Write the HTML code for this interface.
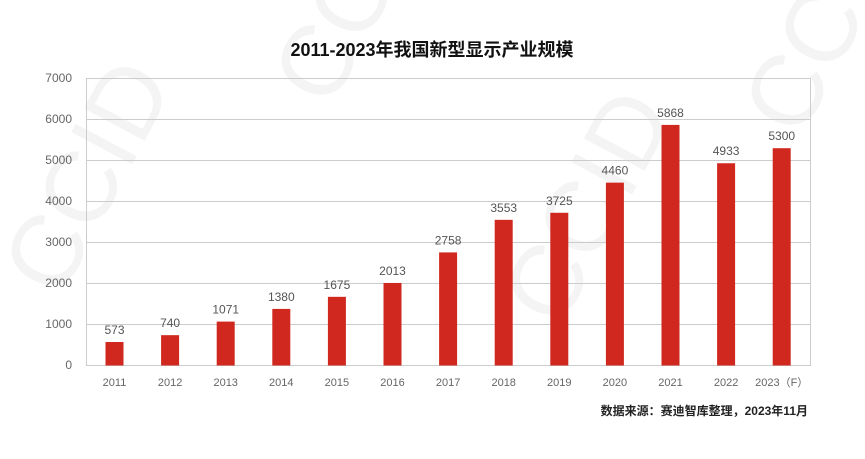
<!DOCTYPE html>
<html><head><meta charset="utf-8"><style>
body{margin:0;background:#fff;}
svg{display:block;font-family:"Liberation Sans","Noto Sans CJK SC",sans-serif;}
</style></head><body>
<svg width="865" height="459" viewBox="0 0 865 459" xmlns="http://www.w3.org/2000/svg">
<rect width="865" height="459" fill="#fff"/>
<g fill="#f4f4f4" font-size="100" font-family="Liberation Sans, sans-serif">
<text x="0" y="0" transform="translate(60,300) rotate(-62)">CCID</text>
<text x="0" y="0" transform="translate(330,110) rotate(-62)">CCID</text>
<text x="0" y="0" transform="translate(560,330) rotate(-62)">CCID</text>
<text x="0" y="0" transform="translate(800,140) rotate(-62)">CCID</text>
</g>
<text x="432" y="56" text-anchor="middle" font-size="18" font-weight="bold" fill="#111" font-family="Liberation Sans, Noto Sans CJK SC, sans-serif">2011-2023年我国新型显示产业规模</text>
<g stroke="#c9cdcd" stroke-width="1">
<line x1="87" y1="78.5" x2="810" y2="78.5"/>
<line x1="87" y1="119.5" x2="810" y2="119.5"/>
<line x1="87" y1="160.5" x2="810" y2="160.5"/>
<line x1="87" y1="201.5" x2="810" y2="201.5"/>
<line x1="87" y1="242.5" x2="810" y2="242.5"/>
<line x1="87" y1="283.5" x2="810" y2="283.5"/>
<line x1="87" y1="324.5" x2="810" y2="324.5"/>
<line x1="87" y1="365.5" x2="810" y2="365.5"/>
<line x1="86.5" y1="78" x2="86.5" y2="366"/>
<line x1="810.5" y1="78" x2="810.5" y2="366"/>
</g>
<g font-size="12" fill="#666" text-anchor="end">
<text x="72" y="82">7000</text><text x="72" y="123">6000</text><text x="72" y="164">5000</text>
<text x="72" y="205">4000</text><text x="72" y="246">3000</text><text x="72" y="287">2000</text>
<text x="72" y="328">1000</text><text x="72" y="369">0</text>
</g>
<g id="bars" fill="#d0281e"></g>
<g id="lbl" font-size="12" fill="#555" text-anchor="middle"></g>
<g id="xl" font-size="11" fill="#666" text-anchor="middle"></g>
<text x="808" y="415" text-anchor="end" font-size="12" font-weight="bold" fill="#222" font-family="Liberation Sans, Noto Sans CJK SC, sans-serif">数据来源：赛迪智库整理，2023年11月</text>
<script>
var v=[573,740,1071,1380,1675,2013,2758,3553,3725,4460,5868,4933,5300];
var ns="http://www.w3.org/2000/svg";
for(var i=0;i<13;i++){
 var cx=114.5+i*55.6, h=v[i]*287/7000, y=365.5-h;
 var r=document.createElementNS(ns,"rect");
 r.setAttribute("x",cx-9);r.setAttribute("y",y);r.setAttribute("width",18);r.setAttribute("height",h);
 document.getElementById("bars").appendChild(r);
 var t=document.createElementNS(ns,"text");t.setAttribute("x",cx);t.setAttribute("y",y-8);t.textContent=v[i];
 document.getElementById("lbl").appendChild(t);
 var x=document.createElementNS(ns,"text");x.setAttribute("x",cx);x.setAttribute("y",386);
 x.textContent=(2011+i)+(i==12?"（F）":"");
 document.getElementById("xl").appendChild(x);
}
</script>
</svg>
</body></html>
